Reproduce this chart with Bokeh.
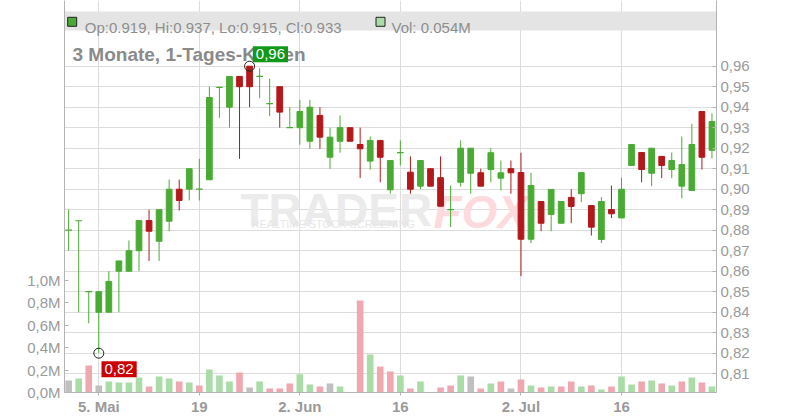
import numpy as np
import pandas as pd
from bokeh.plotting import figure
from bokeh.models import (Range1d, LinearAxis, FixedTicker, CustomJSTickFormatter, Label)
from bokeh.embed import file_html
from bokeh.resources import INLINE

# ---------------- data ----------------
DATES = [d.strftime("%Y-%m-%d") for d in pd.bdate_range("2025-04-30", "2025-07-29")]

OPEN = [0.880, 0.8846, 0.850, 0.840, 0.840, 0.860, 0.860, 0.870, 0.8847, 0.8746,
        0.8844, 0.900, 0.900, 0.900, 0.9046, 0.9497, 0.940, 0.955, 0.960, 0.955,
        0.9417, 0.950, 0.930, 0.930, 0.9234, 0.936, 0.9156, 0.9234, 0.930, 0.9218,
        0.9137, 0.9238, 0.8997, 0.9178, 0.9083, 0.9015, 0.910, 0.9056, 0.890, 0.9034,
        0.9078, 0.908, 0.9096, 0.9054, 0.910, 0.9081, 0.8756, 0.894, 0.8877, 0.8834,
        0.896, 0.8978, 0.892, 0.8755, 0.8901, 0.886, 0.9116, 0.9179, 0.9078, 0.916,
        0.9096, 0.9015, 0.8994, 0.9379, 0.919]
HIGH = [0.890, 0.8846, 0.850, 0.850, 0.860, 0.865, 0.875, 0.8847, 0.890, 0.890,
        0.9047, 0.9047, 0.910, 0.9148, 0.950, 0.950, 0.955, 0.955, 0.960, 0.959,
        0.9539, 0.950, 0.940, 0.9436, 0.9436, 0.940, 0.930, 0.936, 0.930, 0.930,
        0.9257, 0.9238, 0.914, 0.9238, 0.916, 0.914, 0.910, 0.916, 0.9018, 0.9238,
        0.920, 0.910, 0.920, 0.914, 0.914, 0.9178, 0.908, 0.894, 0.8999, 0.894,
        0.900, 0.9081, 0.892, 0.8961, 0.9018, 0.9056, 0.9218, 0.9179, 0.920, 0.916,
        0.9179, 0.9257, 0.9319, 0.9379, 0.937]
LOW = [0.870, 0.840, 0.8346, 0.820, 0.840, 0.840, 0.860, 0.860, 0.865, 0.865,
       0.8795, 0.8896, 0.8945, 0.8945, 0.9046, 0.9348, 0.930, 0.9148, 0.940, 0.9444,
       0.9356, 0.930, 0.930, 0.9217, 0.9197, 0.9197, 0.910, 0.9178, 0.9234, 0.9054,
       0.9096, 0.9034, 0.8978, 0.9116, 0.8978, 0.900, 0.9015, 0.8917, 0.8815, 0.9013,
       0.8978, 0.9015, 0.9034, 0.8994, 0.8978, 0.8576, 0.8737, 0.8795, 0.8795, 0.8834,
       0.8834, 0.8937, 0.8774, 0.8737, 0.8859, 0.886, 0.9116, 0.9034, 0.9015, 0.9054,
       0.9054, 0.8956, 0.8994, 0.9096, 0.915]
CLOSE = [0.880, 0.8846, 0.850, 0.850, 0.855, 0.865, 0.870, 0.8847, 0.8795, 0.890,
         0.900, 0.8945, 0.910, 0.900, 0.9447, 0.9497, 0.955, 0.950, 0.950, 0.955,
         0.9417, 0.9376, 0.930, 0.9379, 0.940, 0.9254, 0.9254, 0.930, 0.9234, 0.9197,
         0.9238, 0.9156, 0.914, 0.9178, 0.900, 0.914, 0.9015, 0.8917, 0.890, 0.920,
         0.920, 0.9015, 0.9178, 0.908, 0.908, 0.8756, 0.9018, 0.8834, 0.8999, 0.894,
         0.8916, 0.9081, 0.8815, 0.894, 0.888, 0.900, 0.9218, 0.9096, 0.920, 0.9116,
         0.914, 0.912, 0.9218, 0.9156, 0.933]
VOLUME = [107000, 125000, 241000, 62500, 98000, 89000, 89000, 134000, 54000, 143000,
          125000, 98000, 89000, 62500, 205000, 152000, 98000, 179000, 45000, 98000,
          36000, 36000, 80000, 164000, 71000, 54000, 80000, 54000, 0, 821000,
          339000, 232000, 187500, 152000, 36000, 98000, 0, 45000, 62500, 152000,
          143000, 36000, 80000, 98000, 36000, 116000, 62500, 45000, 54000, 54000,
          98000, 54000, 62500, 27000, 54000, 143000, 71000, 98000, 107000, 80000,
          62500, 98000, 134000, 89000, 54000]

TICK_DATES = ["2025-05-05", "2025-05-19", "2025-06-02", "2025-06-16", "2025-07-02", "2025-07-16"]
TICK_LABELS = ["5. Mai", "19", "2. Jun", "16", "2. Jul", "16"]
PRICE_TICKS = [0.81, 0.82, 0.83, 0.84, 0.85, 0.86, 0.87, 0.88, 0.89, 0.90,
               0.91, 0.92, 0.93, 0.94, 0.95, 0.96]
VOL_TICKS = [0, 200000, 400000, 600000, 800000, 1000000]
TITLE = "3 Monate, 1-Tages-Kerzen"

# ---------------- style ----------------
GREEN = "#4aab34"
RED = "#b3181b"
VGREEN = "#a9dca6"
VPINK = "#efa8b0"
VGRAY = "#c0c0c0"
TXT = "#9a9a9a"
FONT = "Liberation Sans"

# reference-pixel -> data helpers (layout only)
def dx(px):
    return (px - 68.14) / 10.052

def dy(py):
    return 0.96 - (py - 65.7) / 2050.0

n = len(CLOSE)
idx = np.arange(n)
o = np.array(OPEN); h = np.array(HIGH); l = np.array(LOW); c = np.array(CLOSE)
v = np.array(VOLUME, dtype=float)

p = figure(frame_width=652, frame_height=392,
           min_border_left=64, min_border_right=84, min_border_top=0, min_border_bottom=24,
           x_range=Range1d(dx(64), dx(716)), y_range=Range1d(dy(392), dy(0)),
           y_axis_location="right", output_backend="svg", toolbar_location=None,
           background_fill_color="white", border_fill_color="white")
p.outline_line_color = None
p.extra_y_ranges = {"vol": Range1d(0, 392 / 112.0 * 1e6)}

# grid
p.xgrid.grid_line_color = "#dcdcdc"
p.ygrid.grid_line_color = "#dcdcdc"

# price axis (right)
ya = p.yaxis[0]
ya.ticker = FixedTicker(ticks=PRICE_TICKS)
ya.formatter = CustomJSTickFormatter(code="return tick.toFixed(2).replace('.', ',');")
ya.major_tick_in = 4
ya.major_tick_out = 0
ya.minor_tick_line_color = None
ya.axis_line_color = "#b4b4b4"
ya.major_tick_line_color = "#b4b4b4"
ya.major_label_text_color = TXT
ya.major_label_text_font = FONT
ya.major_label_text_font_size = "15px"
ya.major_label_standoff = 4

# volume axis (left)
va = LinearAxis(y_range_name="vol", ticker=FixedTicker(ticks=VOL_TICKS),
                formatter=CustomJSTickFormatter(
                    code="return (tick/1e6).toFixed(1).replace('.', ',') + 'M';"))
va.major_tick_in = 4
va.major_tick_out = 0
va.minor_tick_line_color = None
va.axis_line_color = "#b4b4b4"
va.major_tick_line_color = "#b4b4b4"
va.major_label_text_color = TXT
va.major_label_text_font = FONT
va.major_label_text_font_size = "15px"
va.major_label_standoff = 4
p.add_layout(va, "left")

# date axis (bottom)
tick_idx = [DATES.index(d) for d in TICK_DATES]
xa = p.xaxis[0]
xa.ticker = FixedTicker(ticks=tick_idx)
xa.major_label_overrides = {i: lab for i, lab in zip(tick_idx, TICK_LABELS)}
xa.major_tick_in = 0
xa.major_tick_out = 3
xa.minor_tick_line_color = None
xa.axis_line_color = "#b4b4b4"
xa.major_tick_line_color = "#b4b4b4"
xa.major_label_text_color = TXT
xa.major_label_text_font = FONT
xa.major_label_text_font_style = "bold"
xa.major_label_text_font_size = "15px"
xa.major_label_standoff = 2

# watermark
for txt, px, py, size, col, style in [
        ("TRADER", 240, 209, "46px", "#ebebeb", "bold"),
        ("FOX", 433, 211, "46px", "#fcdade", "bold italic"),
        ("REALTIME STOCK SCREENING", 251, 223, "11px", "#e6e6e6", "normal")]:
    p.add_layout(Label(x=dx(px), y=dy(py), text=txt, text_font=FONT, text_font_size=size,
                       text_color=col, text_font_style=style, text_baseline="alphabetic",
                       level="underlay"))

# volume bars
prev = np.r_[np.nan, c[:-1]]
vcol = []
for i in range(n):
    if i == 0 or abs(c[i] - prev[i]) < 1e-6:
        vcol.append(VGRAY)
    elif c[i] > prev[i]:
        vcol.append(VGREEN)
    else:
        vcol.append(VPINK)
vcol = np.array(vcol)
m = v > 0
p.vbar(x=idx[m], top=v[m], bottom=0, width=0.66, fill_color=vcol[m], line_color=None,
       y_range_name="vol")

# candles
flat = np.abs(c - o) < 1e-6
ccol = np.where(c < o - 1e-6, RED, GREEN)
p.segment(x0=idx, y0=h, x1=idx, y1=l, line_color=ccol, line_width=1)
nb = ~flat
p.vbar(x=idx[nb], top=np.maximum(o, c)[nb], bottom=np.minimum(o, c)[nb], width=0.57,
       fill_color=ccol[nb], line_color=ccol[nb], line_width=1)
p.segment(x0=idx[flat] - 0.33, y0=o[flat], x1=idx[flat] + 0.33, y1=o[flat],
          line_color=GREEN, line_width=1.2)

# header band
p.quad(left=dx(64), right=dx(716), top=dy(11), bottom=dy(30), fill_color="#e4e4e4",
       line_color=None)
p.scatter(x=[dx(71.7)], y=[dy(21.3)], marker="square", size=9, fill_color=GREEN,
          line_color="#222222", line_width=1)
p.scatter(x=[dx(380)], y=[dy(21.3)], marker="square", size=9, fill_color=VGREEN,
          line_color="#222222", line_width=1)
head = f"Op:{OPEN[-1]:.3f}, Hi:{HIGH[-1]:.3f}, Lo:{LOW[-1]:.3f}, Cl:{CLOSE[-1]:.3f}"
p.add_layout(Label(x=dx(84.3), y=dy(26.7), text=head, text_font=FONT, text_font_size="15px",
                   text_color="#8e8e8e", text_baseline="alphabetic"))
p.add_layout(Label(x=dx(391), y=dy(26.7), text=f"Vol: {VOLUME[-1] / 1e6:.3f}M", text_font=FONT,
                   text_font_size="15px", text_color="#8e8e8e", text_baseline="alphabetic"))

# title
p.add_layout(Label(x=dx(72), y=dy(54), text=TITLE, text_font=FONT, text_font_size="19px",
                   text_font_style="bold", text_color="#8a8a8a", text_baseline="alphabetic"))

# extreme markers
ih = int(np.argmax(h)); il = int(np.argmin(l))
p.scatter(x=[ih, il], y=[h[ih], l[il]], marker="circle", size=10, fill_color=None,
          line_color="#222222", line_width=1)
p.add_layout(Label(x=dx(252.3), y=dy(61.7), text=f"{h[ih]:.2f}".replace(".", ","),
                   text_font=FONT, text_font_size="15px", text_color="white",
                   text_baseline="bottom", background_fill_color="#12991a",
                   background_fill_alpha=1.0, padding=3))
p.add_layout(Label(x=dx(101), y=dy(376.7), text=f"{l[il]:.2f}".replace(".", ","),
                   text_font=FONT, text_font_size="15px", text_color="white",
                   text_baseline="bottom", background_fill_color="#cc0000",
                   background_fill_alpha=1.0, padding=3))

open("out.html", "w").write(file_html(p, INLINE))
